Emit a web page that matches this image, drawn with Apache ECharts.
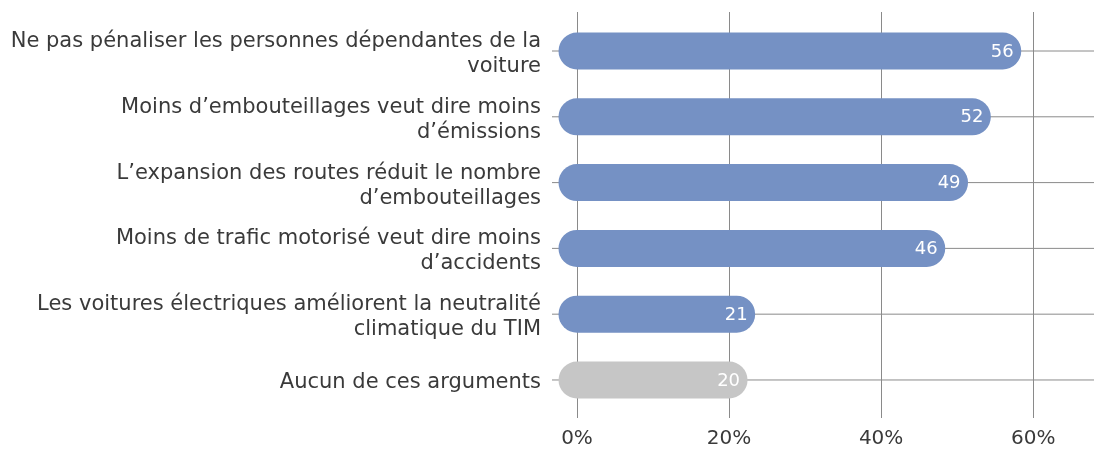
<!DOCTYPE html>
<html>
<head>
<meta charset="utf-8">
<script src="https://cdn.jsdelivr.net/npm/echarts@6/dist/echarts.min.js"></script>
<style>
  html, body { margin: 0; padding: 0; background: #fff; }
  #chart { width: 1094px; height: 449px; }
</style>
</head>
<body>
<div id="chart"></div>
<script>
var categories = [
  'Ne pas pénaliser les personnes dépendantes de la\nvoiture',
  'Moins d’embouteillages veut dire moins\nd’émissions',
  'L’expansion des routes réduit le nombre\nd’embouteillages',
  'Moins de trafic motorisé veut dire moins\nd’accidents',
  'Les voitures électriques améliorent la neutralité\nclimatique du TIM',
  'Aucun de ces arguments'
];
var values = [56, 52, 49, 46, 21, 20];
var barColors = ['#7591c4', '#7591c4', '#7591c4', '#7591c4', '#7591c4', '#c6c6c6'];
var xTicks = [0, 20, 40, 60];

var chart = echarts.init(document.getElementById('chart'));
var FONT = '"DejaVu Sans", sans-serif';
var X_MAX = 68;

var data = values.map(function (v, i) { return [v, i]; });

chart.setOption({
  animation: false,
  grid: { left: 577, right: 0, top: 12, bottom: 31 },
  xAxis: {
    type: 'value',
    min: 0,
    max: X_MAX,
    interval: 20,
    axisLine: { show: false },
    axisTick: { show: false },
    splitLine: { lineStyle: { color: '#8a8a8a', width: 1 } },
    axisLabel: {
      showMaxLabel: false,
      margin: 11,
      color: '#3a3a3a',
      fontSize: 20,
      fontFamily: FONT,
      formatter: function (v) { return xTicks.indexOf(v) >= 0 ? v + '%' : ''; }
    }
  },
  yAxis: {
    type: 'value',
    inverse: true,
    min: -0.593,
    max: 5.578,
    axisLine: { show: false },
    axisTick: { show: false },
    splitLine: { show: false },
    axisLabel: {
      customValues: [0, 1, 2, 3, 4, 5],
      margin: 36,
      align: 'right',
      formatter: function (v) {
        var name = categories[Math.round(v)] || '';
        // small spacer line on top nudges the text a few px down
        return '{s| }\n' + name.split('\n').map(function (l) { return '{t|' + l + '}'; }).join('\n');
      },
      rich: {
        s: { fontSize: 1, lineHeight: 6 },
        t: { color: '#3a3a3a', fontSize: 21, lineHeight: 25, fontFamily: FONT, align: 'right' }
      }
    }
  },
  series: [{
    type: 'custom',
    data: data,
    clip: false,
    renderItem: function (params, api) {
      var v = api.value(0), idx = api.value(1);
      var p0 = api.coord([0, idx]);
      var p1 = api.coord([v, idx]);
      var pEnd = api.coord([X_MAX, idx]);
      var h = 37, r = h / 2;
      return {
        type: 'group',
        children: [
          {
            type: 'line',
            shape: { x1: p0[0] - 25, y1: p0[1], x2: pEnd[0], y2: p0[1] },
            style: { stroke: '#8a8a8a', lineWidth: 1 }
          },
          {
            type: 'rect',
            shape: { x: p0[0] - r, y: p0[1] - r, width: p1[0] - p0[0] + 2 * r, height: h, r: r },
            style: { fill: barColors[idx] }
          },
          {
            type: 'text',
            style: {
              text: String(v),
              x: p1[0] + 11,
              y: p1[1] + 1,
              align: 'right',
              verticalAlign: 'middle',
              fill: '#ffffff',
              fontSize: 18,
              fontFamily: FONT
            }
          }
        ]
      };
    }
  }]
});
</script>
</body>
</html>
